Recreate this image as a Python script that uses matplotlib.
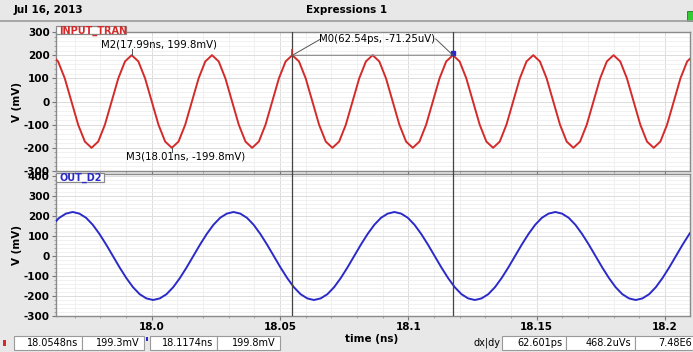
import numpy as np
import matplotlib
matplotlib.use("Agg")
import matplotlib.pyplot as plt
from matplotlib.ticker import MultipleLocator, FixedLocator
from matplotlib.patches import Rectangle
from matplotlib.lines import Line2D

# ---------------- data ----------------
# INPUT_TRAN (mV), uniformly sampled, start time / step in ns
red_t0 = 17.9609
red_dt = 0.0026083
red_mv = [200, 173, 100, 0, -100, -173, -200, -173, -100, 0, 100, 173,
          200, 173, 100, 0, -100, -173, -200, -173, -100, 0, 100, 173,
          200, 173, 100, 0, -100, -173, -200, -173, -100, 0, 100, 173,
          200, 173, 100, 0, -100, -173, -200, -173, -100, 0, 100, 173,
          200, 173, 100, 0, -100, -173, -200, -173, -100, 0, 100, 173,
          200, 173, 100, 0, -100, -173, -200, -173, -100, 0, 100, 173,
          200, 173, 100, 0, -100, -173, -200, -173, -100, 0, 100, 173,
          200, 173, 100, 0, -100, -173, -200, -173, -100, 0, 100, 173,
          200]
# OUT_D2 (mV)
blue_t0 = 17.96136
blue_dt = 0.0026125
blue_mv = [156, 191, 212,
           220, 212, 191, 156, 110, 57, 0, -57, -110, -156, -191, -212,
           -220, -212, -191, -156, -110, -57, 0, 57, 110, 156, 191, 212,
           220, 212, 191, 156, 110, 57, 0, -57, -110, -156, -191, -212,
           -220, -212, -191, -156, -110, -57, 0, 57, 110, 156, 191, 212,
           220, 212, 191, 156, 110, 57, 0, -57, -110, -156, -191, -212,
           -220, -212, -191, -156, -110, -57, 0, 57, 110, 156, 191, 212,
           220, 212, 191, 156, 110, 57, 0, -57, -110, -156, -191, -212,
           -220, -212, -191, -156, -110, -57, 0, 57, 110, 156, 191, 212,
           220, 212, 191, 156, 110]

cursor_a = 18.0548
cursor_a_mv = 199.3
cursor_b = 18.1174
cursor_b_mv = 199.8
m2_t, m2_mv = 17.9922, 199.8
m3_t, m3_mv = 18.0078, -199.8

x_ticks = [18.0, 18.05, 18.1, 18.15, 18.2]
x_ticklabels = ["18.0", "18.05", "18.1", "18.15", "18.2"]
top_yticks = [-300, -200, -100, 0, 100, 200, 300]
bot_yticks = [-300, -200, -100, 0, 100, 200, 300, 400]

status_texts = ["18.0548ns", "199.3mV", "18.1174ns", "199.8mV",
                "62.601ps", "468.2uVs", "7.48E6"]

# ---------------- layout ----------------
W, H = 693, 352
fig = plt.figure(figsize=(W / 100, H / 100), dpi=100)
fig.patch.set_facecolor('#e8e8e8')

def fx(px):
    return px / W

def fy(py):
    return 1 - py / H

RED = '#d42a2a'
BLUE = '#2a2ac8'
XLIM = (17.9627, 18.2098)

ax1 = fig.add_axes([fx(56), fy(171), fx(690) - fx(56), fy(32) - fy(171)])
ax2 = fig.add_axes([fx(56), fy(316), fx(690) - fx(56), fy(174) - fy(316)])

red_t = red_t0 + red_dt * np.arange(len(red_mv))
blue_t = blue_t0 + blue_dt * np.arange(len(blue_mv))

ax1.plot(red_t, red_mv, color=RED, lw=1.4, zorder=3)
ax2.plot(blue_t, blue_mv, color=BLUE, lw=1.4, zorder=3)

ax1.set_ylim(-300, 300)
ax2.set_ylim(-300, 410)

for ax, yt in ((ax1, top_yticks), (ax2, bot_yticks)):
    ax.set_xlim(*XLIM)
    ax.set_facecolor('white')
    ax.xaxis.set_major_locator(FixedLocator(x_ticks))
    ax.xaxis.set_minor_locator(MultipleLocator(0.01))
    ax.yaxis.set_major_locator(FixedLocator(yt))
    ax.yaxis.set_minor_locator(MultipleLocator(20))
    ax.grid(True, which='major', color='#dcdcdc', lw=0.7, zorder=0)
    ax.grid(True, which='minor', color='#efefef', lw=0.6, zorder=0)
    ax.set_axisbelow(True)
    for s in ax.spines.values():
        s.set_color('#8a8a8a')
        s.set_linewidth(1.0)
    ax.tick_params(which='major', length=3, color='#777777', width=0.8,
                   labelsize=7.5, pad=1.5)
    ax.tick_params(which='minor', length=1.5, color='#999999', width=0.6)
    ax.set_yticklabels([str(v) for v in yt], fontweight='bold')
    ax.set_ylabel("V (mV)", fontsize=7.5, fontweight='bold', labelpad=1)

ax1.tick_params(axis='x', labelbottom=False)
ax2.set_xticklabels(x_ticklabels, fontweight='bold')
fig.text(fx(372), fy(339.5), "time (ns)", fontsize=7.5, fontweight='bold',
         ha='center', va='center')

# cursors
for t in (cursor_a, cursor_b):
    ax1.axvline(t, color='#444444', lw=0.9, zorder=4)
    ax2.axvline(t, color='#444444', lw=0.9, zorder=4)
    xf = fig.transFigure.inverted().transform(ax1.transData.transform((t, 0)))[0]
    fig.add_artist(Line2D([xf, xf], [fy(171), fy(174)], color='#444444', lw=0.9))

# delta line between cursors
ax1.plot([cursor_a, cursor_b], [cursor_a_mv, cursor_b_mv], color='#888888', lw=0.8, zorder=4)
ax1.plot([cursor_a, cursor_a], [cursor_a_mv, cursor_a_mv + 22], color=RED, lw=1.2, zorder=5)
ax1.plot([cursor_b], [cursor_b_mv + 8], marker='s', ms=2.5, color=BLUE, zorder=5)

# M0 annotation
ax1.annotate("M0(62.54ps, -71.25uV)", xy=(cursor_a, cursor_a_mv),
             xytext=(fig.transFigure.inverted().transform((377.5, H - 38.5))),
             textcoords='figure fraction', ha='center', va='center', fontsize=7.3,
             zorder=6)
ax1.add_line(Line2D([cursor_a, 18.0659], [cursor_a_mv, 270], color='#555555', lw=0.7, zorder=5))
ax1.add_line(Line2D([cursor_b, 18.1107], [cursor_b_mv, 270], color='#555555', lw=0.7, zorder=5))

# M2 / M3
ax1.text(18.0030, 248, "M2(17.99ns, 199.8mV)", ha='center', va='center',
         fontsize=7.3, zorder=6)
ax1.add_line(Line2D([m2_t, m2_t], [m2_mv, 225], color='#555555', lw=0.7, zorder=5))
ax1.text(18.0134, -236, "M3(18.01ns, -199.8mV)", ha='center', va='center',
         fontsize=7.3, zorder=6)
ax1.add_line(Line2D([m3_t, m3_t], [m3_mv, -216], color='#555555', lw=0.7, zorder=5))

# tabs
def tab(x0, x1, y0, y1, label, color):
    fig.add_artist(Rectangle((fx(x0), fy(y1)), fx(x1) - fx(x0), fy(y0) - fy(y1),
                             facecolor='white', edgecolor='#8a8a8a', lw=0.9,
                             transform=fig.transFigure, zorder=10))
    fig.text(fx(x0 + 3), fy((y0 + y1) / 2 + 0.5), label, color=color, fontsize=7,
             fontweight='bold', ha='left', va='center', zorder=11)

tab(56, 126, 26, 34, "INPUT_TRAN", RED)
tab(56, 104, 173, 182, "OUT_D2", BLUE)

# title bar
fig.add_artist(Line2D([0, 1], [fy(20.5), fy(20.5)], color='#9a9a9a', lw=1.2))
fig.text(fx(14), fy(10), "Jul 16, 2013", fontsize=7.5, fontweight='bold',
         ha='left', va='center')
fig.text(fx(347), fy(10), "Expressions 1", fontsize=7.5, fontweight='bold',
         ha='center', va='center')
fig.add_artist(Rectangle((fx(687), fy(21)), fx(6), fy(11) - fy(21),
                         facecolor='#33cc33', edgecolor='#227722', lw=0.6,
                         transform=fig.transFigure))

# status bar
boxes = [(14, 82), (82, 144), (150, 217), (217, 280),
         (502, 566), (566, 635), (635, 696)]
for (x0, x1), txt in zip(boxes, status_texts):
    fig.add_artist(Rectangle((fx(x0), fy(350)), fx(x1) - fx(x0), fy(336) - fy(350),
                             facecolor='white', edgecolor='#9a9a9a', lw=0.8,
                             transform=fig.transFigure))
    fig.text(fx(min(x1 - 4, 692)), fy(343), txt, fontsize=7, ha='right', va='center')
fig.add_artist(Rectangle((fx(3), fy(346)), fx(3), fy(340) - fy(346),
                         facecolor=RED, edgecolor='none', transform=fig.transFigure))
fig.add_artist(Rectangle((fx(145.5), fy(341)), fx(2.5), fy(337) - fy(341),
                         facecolor=BLUE, edgecolor='none', transform=fig.transFigure))
fig.text(fx(487), fy(343), "dx|dy", fontsize=7, ha='center', va='center')

fig.savefig("out.png", dpi=100, facecolor=fig.get_facecolor())
